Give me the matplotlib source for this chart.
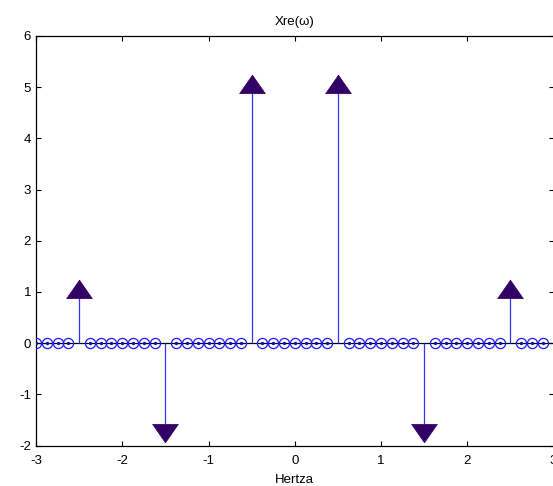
import numpy as np
import matplotlib
matplotlib.use("Agg")
import matplotlib.pyplot as plt

# Data
sample_freqs = [-3.0, -2.875, -2.75, -2.625, -2.5, -2.375, -2.25, -2.125, -2.0, -1.875,
                -1.75, -1.625, -1.5, -1.375, -1.25, -1.125, -1.0, -0.875, -0.75, -0.625,
                -0.5, -0.375, -0.25, -0.125, 0.0, 0.125, 0.25, 0.375, 0.5, 0.625,
                0.75, 0.875, 1.0, 1.125, 1.25, 1.375, 1.5, 1.625, 1.75, 1.875,
                2.0, 2.125, 2.25, 2.375, 2.5, 2.625, 2.75, 2.875]
impulse_freqs = [-2.5, -1.5, -0.5, 0.5, 1.5, 2.5]
impulse_vals = [1.0, -1.7, 5.0, 5.0, -1.7, 1.0]
xticks = [-3, -2, -1, 0, 1, 2, 3]
yticks = [-2, -1, 0, 1, 2, 3, 4, 5, 6]
title = "Xre(ω)"
xlabel = "Hertza"

plt.rcParams['font.family'] = ['Liberation Sans', 'DejaVu Sans']

W, H = 553, 486
fig = plt.figure(figsize=(W / 100, H / 100), dpi=100)
x0, x1 = 36, 553.5
y_top, y_bot = 36, 445.5
ax = fig.add_axes([x0 / W, (H - y_bot) / H, (x1 - x0) / W, (y_bot - y_top) / H])

zero_freqs = [f for f in sample_freqs if f not in impulse_freqs]
zero_vals = [0.0] * len(zero_freqs)

# baseline
ax.axhline(0, color='black', lw=0.9, zorder=1)

# zero-valued samples: circles with a dot
ax.plot(zero_freqs, zero_vals, linestyle='none', marker='o', ms=7.3,
        mfc='none', mec='#1a1aff', mew=0.9, zorder=3)
ax.plot(zero_freqs, zero_vals, linestyle='none', marker='o', ms=2.4,
        mfc='#10109a', mec='#10109a', mew=0, zorder=4)

# impulse stems
ax.vlines(impulse_freqs, 0, impulse_vals, colors='#3030ff', lw=0.9, zorder=2)

up_marker = [(0, 12), (-12.5, -6), (12.5, -6), (0, 12)]
down_marker = [(0, -12), (-12.5, 6), (12.5, 6), (0, -12)]
tri_color = '#330066'
for f, v in zip(impulse_freqs, impulse_vals):
    m = up_marker if v > 0 else down_marker
    ax.plot([f], [v], linestyle='none', marker=m, ms=18.5,
            mfc=tri_color, mec=tri_color, mew=0.5, zorder=5, clip_on=False)

ax.set_xlim(-3, 3)
ax.set_ylim(-2, 6)
ax.set_xticks(xticks)
ax.set_yticks(yticks)
ax.set_xticklabels([str(t) for t in xticks])
ax.set_yticklabels([str(t) for t in yticks])
ax.tick_params(direction='in', length=3.5, width=0.8, labelsize=9.5,
               top=True, right=True, colors='black')
ax.tick_params(axis='x', pad=6.5)
ax.tick_params(axis='y', pad=3.5)
for s in ax.spines.values():
    s.set_linewidth(0.9)
ax.set_title(title, fontsize=9.5, pad=8)
ax.set_xlabel(xlabel, fontsize=9.5, labelpad=5.5)

fig.savefig("out.png", dpi=100)
